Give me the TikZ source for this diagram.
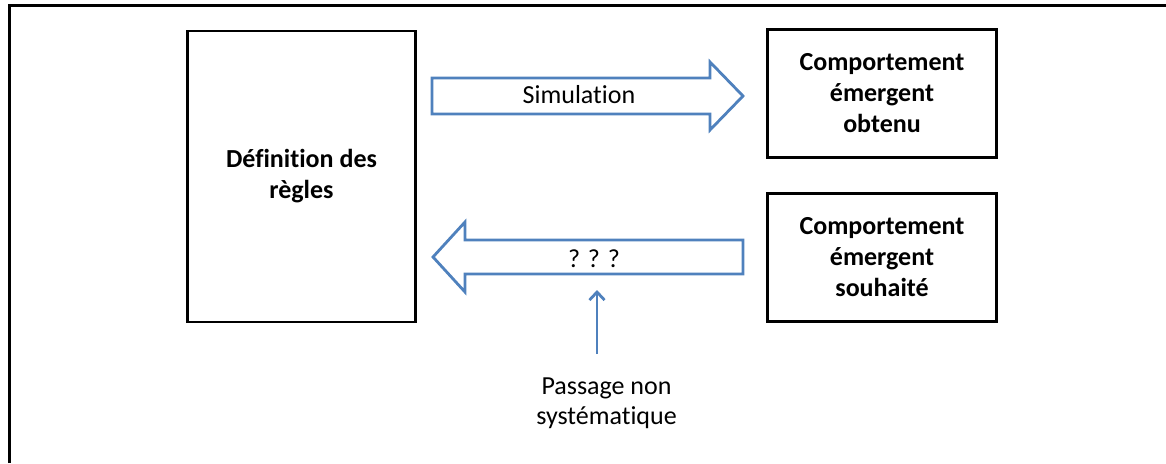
\documentclass[tikz,border=0pt]{standalone}
\usepackage{fontspec}
\setmainfont[Ligatures=NoCommon]{Carlito}
\usepackage{tikz}
\usetikzlibrary{arrows.meta,positioning}

\definecolor{officeblue}{HTML}{4F81BD}
\tikzset{
  every node/.style={font=\fontsize{26}{30}\selectfont, align=center, inner sep=0pt},
  rulebox/.style={draw, line width=2.8pt, font=\fontsize{26}{31}\selectfont\bfseries},
  blockarrow/.style={draw=officeblue, line width=2.8pt, fill=white, line join=miter},
  thinarrow/.style={draw=officeblue, line width=2.8pt, -{Straight Barb[length=8pt,width=15pt]}}
}

\begin{document}
\begin{tikzpicture}[x=1pt,y=-1pt]
  \useasboundingbox (0,0) rectangle (1166,463);
  \draw[line width=3pt] (9,463) -- (9,5.5) -- (1166,5.5);
  \node[rulebox, minimum width=228, minimum height=291] (regles) at (301.5,176.5) {Définition des\\règles};
  \node[rulebox, minimum width=229, minimum height=128] (obtenu) at (882,93.5) {Comportement\\émergent\\obtenu};
  \node[rulebox, minimum width=229, minimum height=128] (souhaite) at (882,257.5) {Comportement\\émergent\\souhaité};
  \draw[blockarrow] (432,78) -- (710,78) -- (710,62) -- (743,96) -- (710,130) -- (710,114) -- (432,114) -- cycle;
  \node[anchor=base] (simu) at (579,103) {Simulation};
  \draw[blockarrow] (743,240) -- (465,240) -- (465,222) -- (433,257) -- (465,292) -- (465,274) -- (743,274) -- cycle;
  \node[anchor=base] (qqq) at (594,267) {? ? ?};
  \node (passage) at (606.5,403) {Passage non\\systématique};
  \coordinate (qtip) at (597,290);
  \coordinate (pfoot) at (597,354);
  \draw[thinarrow] (pfoot) -- (qtip);
\end{tikzpicture}
\end{document}
